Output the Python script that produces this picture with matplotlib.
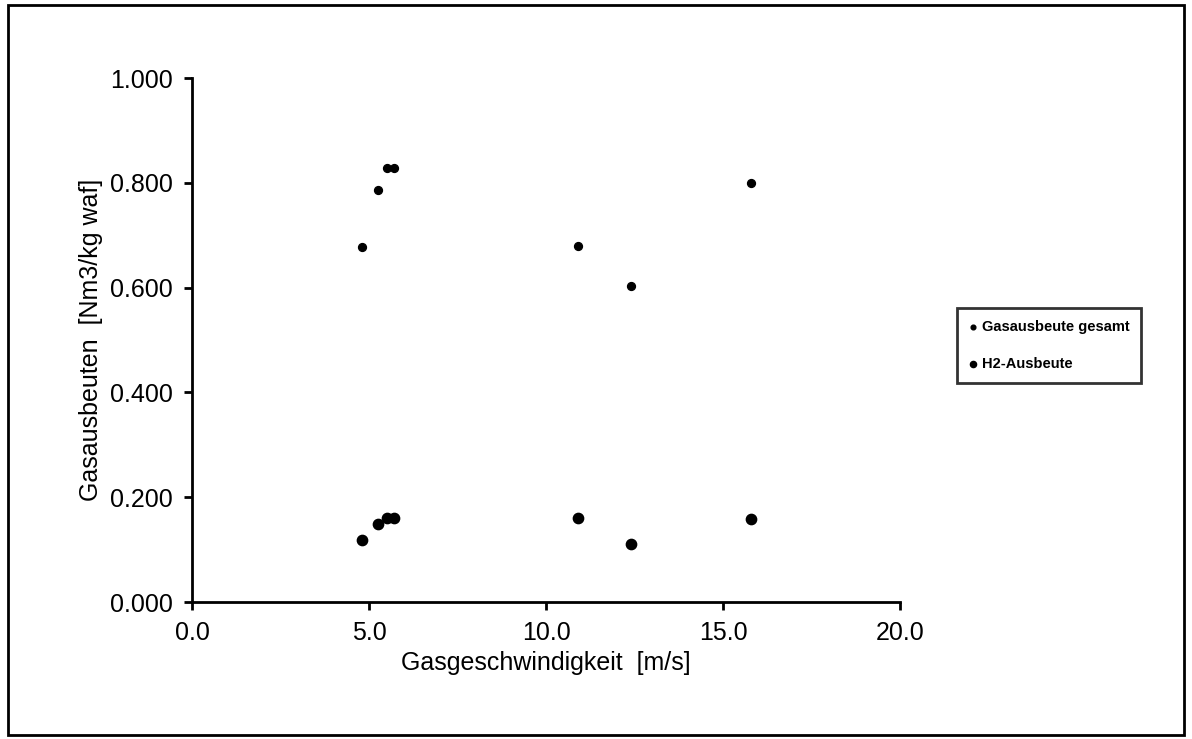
import matplotlib.pyplot as plt
from matplotlib.patches import Rectangle

# Gas velocity [m/s]
gas_velocity = [4.8, 5.25, 5.5, 5.7, 10.9, 12.4, 15.8]
# total gas yield and H2 yield [Nm3/kg waf]
gas_total = [0.677, 0.786, 0.828, 0.828, 0.680, 0.603, 0.800]
h2_yield = [0.118, 0.148, 0.160, 0.160, 0.160, 0.110, 0.158]

x_ticks = [0.0, 5.0, 10.0, 15.0, 20.0]
y_ticks = [0.0, 0.2, 0.4, 0.6, 0.8, 1.0]

plt.rcParams['font.family'] = ['Liberation Sans', 'DejaVu Sans']

fig = plt.figure(figsize=(11.92, 7.39), dpi=100)
ax = fig.add_axes([192 / 1192, 1 - 602 / 739, 708 / 1192, 524 / 739])

ax.scatter(gas_velocity, gas_total, s=32, color='black', label='Gasausbeute gesamt', zorder=3)
ax.scatter(gas_velocity, h2_yield, s=55, color='black', label='H2-Ausbeute', zorder=3)

ax.set_xlim(0, 20)
ax.set_ylim(0, 1)
ax.set_xticks(x_ticks)
ax.set_xticklabels([f"{v:.1f}" for v in x_ticks])
ax.set_yticks(y_ticks)
ax.set_yticklabels([f"{v:.3f}" for v in y_ticks])
ax.spines['top'].set_visible(False)
ax.spines['right'].set_visible(False)
ax.spines['left'].set_linewidth(2)
ax.spines['bottom'].set_linewidth(2)
ax.tick_params(direction='out', length=6, width=2, labelsize=18, pad=8)

ax.set_xlabel("Gasgeschwindigkeit  [m/s]", fontsize=18, labelpad=4)
ax.set_ylabel("Gasausbeuten  [Nm3/kg waf]", fontsize=18, labelpad=5)

leg = ax.legend(loc='center left', bbox_to_anchor=(1.07, 0.49), frameon=True,
                fancybox=False, edgecolor='black', markerscale=0.6,
                handletextpad=0.3, labelspacing=1.6, borderpad=0.8, handlelength=0.6,
                prop={'weight': 'bold', 'size': 10.5})
leg.get_frame().set_linewidth(2)

# outer frame of the scanned chart
fig.patches.append(Rectangle((8 / 1192, 4 / 739), 1176 / 1192, 730 / 739,
                             transform=fig.transFigure, fill=False,
                             edgecolor='black', linewidth=2))

fig.savefig('out.png', dpi=100)
